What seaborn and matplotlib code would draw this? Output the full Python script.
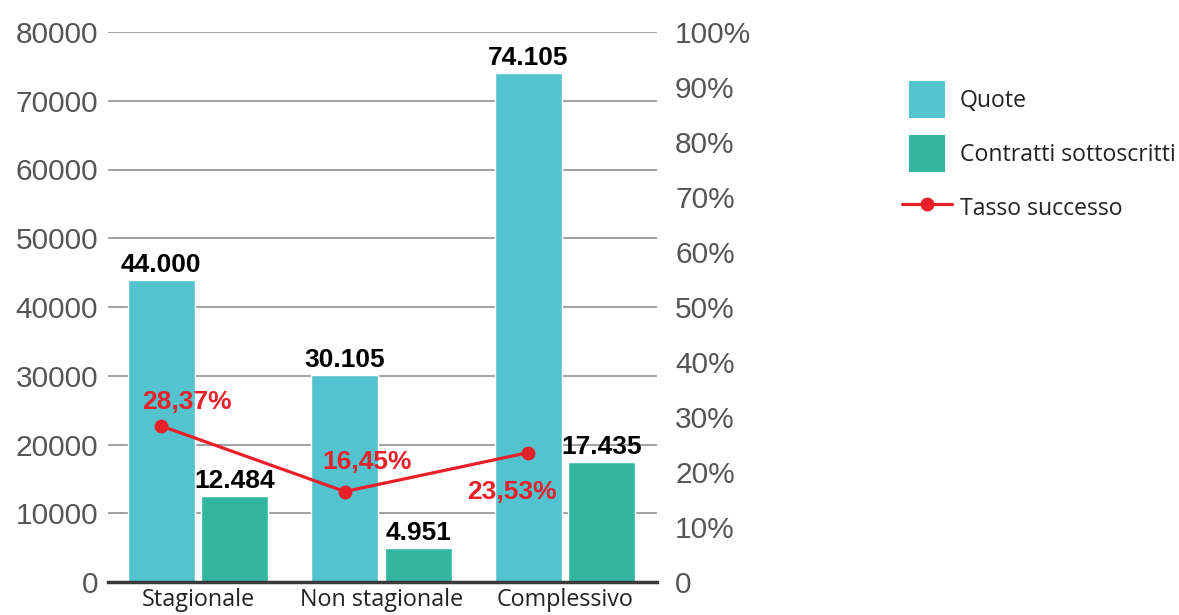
import matplotlib
matplotlib.use("Agg")
import matplotlib.pyplot as plt
from matplotlib.patches import Rectangle
from matplotlib.lines import Line2D
from matplotlib.legend_handler import HandlerPatch
import seaborn as sns
import pandas as pd
import numpy as np

categories = ["Stagionale", "Non stagionale", "Complessivo"]
quote = [44000, 30105, 74105]
contratti = [12484, 4951, 17435]
tasso = [28.37, 16.45, 23.53]
series_names = ["Quote", "Contratti sottoscritti", "Tasso successo"]
left_ticks = [0, 10000, 20000, 30000, 40000, 50000, 60000, 70000, 80000]
right_ticks = [0, 10, 20, 30, 40, 50, 60, 70, 80, 90, 100]

c_quote = "#53C4CF"
c_contr = "#33B6A0"
c_red = "#E8202A"
num_font = ["Liberation Sans", "DejaVu Sans"]
txt_font = ["Open Sans", "DejaVu Sans"]

sns.set_theme(style="white")
plt.rcParams["font.family"] = num_font

df = pd.DataFrame({
    "cat": categories * 2,
    "value": quote + contratti,
    "series": [series_names[0]] * 3 + [series_names[1]] * 3,
})

fig = plt.figure(figsize=(11.79, 6.15), dpi=100)
ax = fig.add_axes([108 / 1179, 1 - 582 / 615, (657 - 108) / 1179, (582 - 32) / 615])

sns.barplot(data=df, x="cat", y="value", hue="series", palette=[c_quote, c_contr],
            width=0.8, gap=0.09, ax=ax, legend=False, saturation=1, zorder=3)
ax.set_xlim(-0.49, 2.50)
ax.set_ylim(0, 80000)
ax.set_yticks(left_ticks)
ax.set_yticklabels([str(t) for t in left_ticks])
ax.set_xlabel("")
ax.set_ylabel("")
ax.grid(axis="y", color="#9a9a9a", linewidth=1.3, zorder=0)
ax.set_axisbelow(True)
for s in ["top", "right", "left"]:
    ax.spines[s].set_visible(False)
ax.spines["bottom"].set_color("#3a3a3a")
ax.spines["bottom"].set_linewidth(2.5)
ax.spines["bottom"].set_zorder(5)
ax.tick_params(axis="y", length=0, pad=7, labelsize=21.5, labelcolor="#555555")
ax.tick_params(axis="x", length=0, pad=4, labelsize=16.8, labelcolor="#222222")
for lbl in ax.get_xticklabels():
    lbl.set_fontfamily(txt_font)

def fmt(v):
    return f"{v:,}".replace(",", ".")

for cont, vals in zip(ax.containers, [quote, contratti]):
    ax.bar_label(cont, labels=[fmt(v) for v in vals], padding=2,
                 fontsize=19, fontweight="bold", color="black")

ax2 = ax.twinx()
xpos = np.arange(len(categories)) - 0.2
sns.lineplot(x=xpos, y=tasso, ax=ax2, color=c_red, linewidth=2.3, marker="o",
             markersize=10, markeredgewidth=0, zorder=6)
ax2.set_ylim(0, 100)
ax2.set_yticks(right_ticks)
ax2.set_yticklabels(["0"] + [f"{t}%" for t in right_ticks[1:]])
ax2.tick_params(axis="y", length=0, pad=13, labelsize=21.5, labelcolor="#555555")
for s in ["top", "right", "left", "bottom"]:
    ax2.spines[s].set_visible(False)
ax2.set_ylabel("")

offsets = [(26, 24), (22, 30), (-17, -39)]
for x, t, off in zip(xpos, tasso, offsets):
    ax2.annotate(f"{t:.2f}%".replace(".", ","), (x, t), xytext=off,
                 textcoords="offset pixels", ha="center", va="center",
                 fontsize=19, fontweight="bold", color=c_red, zorder=7)

class SquareHandler(HandlerPatch):
    def create_artists(self, legend, orig_handle, xdescent, ydescent, width, height, fontsize, trans):
        side = 26.6
        x0 = -xdescent + (width - side) / 2
        y0 = -ydescent + (height - side) / 2
        p = Rectangle((x0, y0), side, side, facecolor=orig_handle.get_facecolor(),
                      edgecolor="none", transform=trans)
        return [p]

handles = [Rectangle((0, 0), 1, 1, facecolor=c_quote),
           Rectangle((0, 0), 1, 1, facecolor=c_contr),
           Line2D([], [], color=c_red, linewidth=2.3, marker="o", markersize=10, markeredgewidth=0)]
leg = fig.legend(handles, series_names, loc="upper left", bbox_to_anchor=(902 / 1179, 1 - 85 / 615),
                 frameon=False, handlelength=2.17, handleheight=1.6, borderpad=0, borderaxespad=0,
                 labelspacing=1.05, handletextpad=0.35,
                 handler_map={Rectangle: SquareHandler()}, prop={"family": txt_font, "size": 16.6})
for t in leg.get_texts():
    t.set_color("#222222")

fig.savefig("out.png", dpi=100)
